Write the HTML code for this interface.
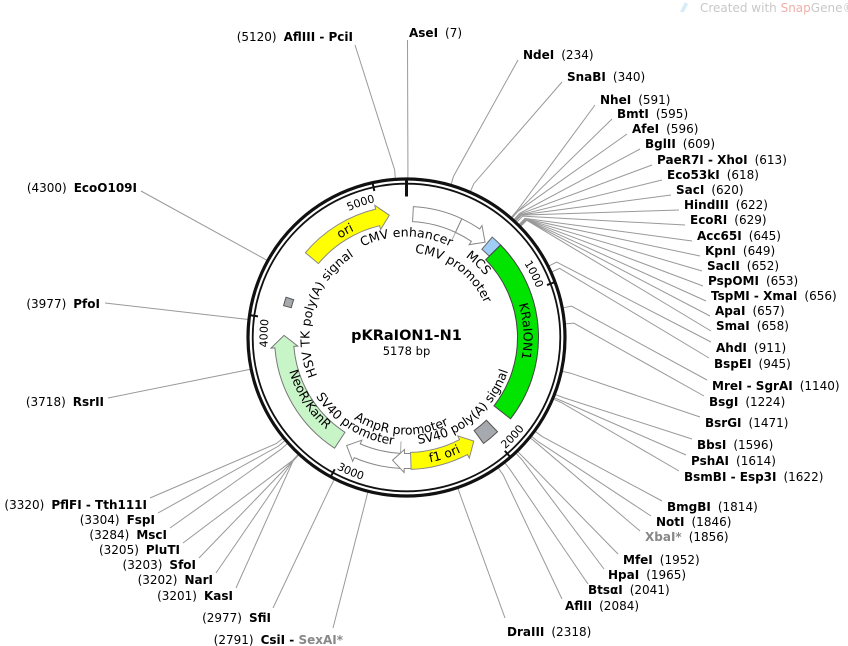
<!DOCTYPE html>
<html><head><meta charset="utf-8"><style>
html,body{margin:0;padding:0;background:#fff;width:848px;height:646px;overflow:hidden}
svg{display:block}
.l{font-size:12px;fill:#000}
.b{font-weight:bold}
.f{font-size:12.5px;fill:#000}
.t{font-size:11px;fill:#000}
</style></head><body>
<svg id="s" width="848" height="646" viewBox="0 0 848 646" font-family="'DejaVu Sans', 'Liberation Sans', sans-serif">
<defs>
<path id="p_cmve"/><path id="p_cmvp"/><path id="p_mcs"/><path id="p_kra"/><path id="p_ori"/>
<path id="p_hsv"/><path id="p_neo"/><path id="p_sv40p"/><path id="p_amp"/><path id="p_sv40pa"/><path id="p_f1"/>
<path id="p_5000"/><path id="p_1000"/><path id="p_4000"/><path id="p_2000"/><path id="p_3000"/>
</defs>
<g id="lines" stroke="#999" stroke-width="1" fill="none"></g>
<g id="feat"></g>
<g id="ring"></g>

<text x="700" y="12" font-size="12" fill="#c8c8c8">Created with <tspan fill="#f0b0a8">Snap</tspan>Gene®</text>
<path d="M680 12 L685 2 L688 4 L684 12 Z" fill="#d6ecf8"/>

<text class="f"><textPath href="#p_cmve" startOffset="50%" text-anchor="middle">CMV enhancer</textPath></text>
<text class="f"><textPath href="#p_cmvp" startOffset="50%" text-anchor="middle">CMV promoter</textPath></text>
<text class="f"><textPath href="#p_mcs" startOffset="50%" text-anchor="middle">MCS</textPath></text>
<text class="f"><textPath href="#p_kra" startOffset="50%" text-anchor="middle">KRaION1</textPath></text>
<text class="f"><textPath href="#p_ori" startOffset="50%" text-anchor="middle">ori</textPath></text>
<text class="f"><textPath href="#p_hsv" startOffset="50%" text-anchor="middle">HSV TK poly(A) signal</textPath></text>
<text class="f"><textPath href="#p_neo" startOffset="50%" text-anchor="middle">NeoR/KanR</textPath></text>
<text class="f"><textPath href="#p_sv40p" startOffset="50%" text-anchor="middle">SV40 promoter</textPath></text>
<text class="f"><textPath href="#p_amp" startOffset="50%" text-anchor="middle">AmpR promoter</textPath></text>
<text class="f"><textPath href="#p_sv40pa" startOffset="50%" text-anchor="middle">SV40 poly(A) signal</textPath></text>
<text class="f"><textPath href="#p_f1" startOffset="50%" text-anchor="middle">f1 ori</textPath></text>
<text class="t"><textPath href="#p_5000" startOffset="100%" text-anchor="end">5000</textPath></text>
<text class="t"><textPath href="#p_1000" startOffset="100%" text-anchor="end">1000</textPath></text>
<text class="t"><textPath href="#p_4000" startOffset="100%" text-anchor="end">4000</textPath></text>
<text class="t"><textPath href="#p_2000" startOffset="0%">2000</textPath></text>
<text class="t"><textPath href="#p_3000" startOffset="0%">3000</textPath></text>

<text x="406.5" y="340" text-anchor="middle" font-size="14.5" font-weight="bold">pKRaION1-N1</text>
<text x="406.5" y="355" text-anchor="middle" font-size="11.5">5178 bp</text>

<g class="l">
<text x="409" y="37"><tspan class="b">AseI</tspan><tspan dx="7">(7)</tspan></text>
<text x="523" y="59"><tspan class="b">NdeI</tspan><tspan dx="7">(234)</tspan></text>
<text x="567" y="81"><tspan class="b">SnaBI</tspan><tspan dx="7">(340)</tspan></text>
<text x="600" y="104"><tspan class="b">NheI</tspan><tspan dx="7">(591)</tspan></text>
<text x="617" y="118"><tspan class="b">BmtI</tspan><tspan dx="7">(595)</tspan></text>
<text x="632" y="133"><tspan class="b">AfeI</tspan><tspan dx="7">(596)</tspan></text>
<text x="645" y="148"><tspan class="b">BglII</tspan><tspan dx="7">(609)</tspan></text>
<text x="657" y="164"><tspan class="b">PaeR7I - XhoI</tspan><tspan dx="7">(613)</tspan></text>
<text x="667" y="179"><tspan class="b">Eco53kI</tspan><tspan dx="7">(618)</tspan></text>
<text x="676" y="194"><tspan class="b">SacI</tspan><tspan dx="7">(620)</tspan></text>
<text x="684" y="209"><tspan class="b">HindIII</tspan><tspan dx="7">(622)</tspan></text>
<text x="690" y="224"><tspan class="b">EcoRI</tspan><tspan dx="7">(629)</tspan></text>
<text x="697" y="240"><tspan class="b">Acc65I</tspan><tspan dx="7">(645)</tspan></text>
<text x="705" y="255"><tspan class="b">KpnI</tspan><tspan dx="7">(649)</tspan></text>
<text x="707" y="270"><tspan class="b">SacII</tspan><tspan dx="7">(652)</tspan></text>
<text x="708" y="285"><tspan class="b">PspOMI</tspan><tspan dx="7">(653)</tspan></text>
<text x="711" y="300"><tspan class="b">TspMI - XmaI</tspan><tspan dx="7">(656)</tspan></text>
<text x="715" y="315"><tspan class="b">ApaI</tspan><tspan dx="7">(657)</tspan></text>
<text x="716" y="330"><tspan class="b">SmaI</tspan><tspan dx="7">(658)</tspan></text>
<text x="716" y="352"><tspan class="b">AhdI</tspan><tspan dx="7">(911)</tspan></text>
<text x="714" y="368"><tspan class="b">BspEI</tspan><tspan dx="7">(945)</tspan></text>
<text x="712" y="390"><tspan class="b">MreI - SgrAI</tspan><tspan dx="7">(1140)</tspan></text>
<text x="709" y="406"><tspan class="b">BsgI</tspan><tspan dx="7">(1224)</tspan></text>
<text x="705" y="427"><tspan class="b">BsrGI</tspan><tspan dx="7">(1471)</tspan></text>
<text x="697" y="449"><tspan class="b">BbsI</tspan><tspan dx="7">(1596)</tspan></text>
<text x="691" y="465"><tspan class="b">PshAI</tspan><tspan dx="7">(1614)</tspan></text>
<text x="684" y="481"><tspan class="b">BsmBI - Esp3I</tspan><tspan dx="7">(1622)</tspan></text>
<text x="667" y="511"><tspan class="b">BmgBI</tspan><tspan dx="7">(1814)</tspan></text>
<text x="656" y="526"><tspan class="b">NotI</tspan><tspan dx="7">(1846)</tspan></text>
<text x="645" y="541"><tspan class="b" fill="#888">XbaI*</tspan><tspan dx="7">(1856)</tspan></text>
<text x="623" y="564"><tspan class="b">MfeI</tspan><tspan dx="7">(1952)</tspan></text>
<text x="608" y="579"><tspan class="b">HpaI</tspan><tspan dx="7">(1965)</tspan></text>
<text x="588" y="594"><tspan class="b">BtsαI</tspan><tspan dx="7">(2041)</tspan></text>
<text x="565" y="610"><tspan class="b">AflII</tspan><tspan dx="7">(2084)</tspan></text>
<text x="507" y="636"><tspan class="b">DraIII</tspan><tspan dx="7">(2318)</tspan></text>
</g>
<g class="l" text-anchor="end">
<text x="353" y="41">(5120)<tspan class="b" dx="7">AflIII - PciI</tspan></text>
<text x="137" y="192">(4300)<tspan class="b" dx="7">EcoO109I</tspan></text>
<text x="100" y="308">(3977)<tspan class="b" dx="7">PfoI</tspan></text>
<text x="104" y="406">(3718)<tspan class="b" dx="7">RsrII</tspan></text>
<text x="147" y="509">(3320)<tspan class="b" dx="7">PflFI - Tth111I</tspan></text>
<text x="155" y="524">(3304)<tspan class="b" dx="7">FspI</tspan></text>
<text x="167" y="539">(3284)<tspan class="b" dx="7">MscI</tspan></text>
<text x="180" y="554">(3205)<tspan class="b" dx="7">PluTI</tspan></text>
<text x="196" y="569">(3203)<tspan class="b" dx="7">SfoI</tspan></text>
<text x="213" y="584">(3202)<tspan class="b" dx="7">NarI</tspan></text>
<text x="233" y="600">(3201)<tspan class="b" dx="7">KasI</tspan></text>
<text x="271" y="622">(2977)<tspan class="b" dx="7">SfiI</tspan></text>
<text x="343" y="644">(2791)<tspan class="b" dx="7">CsiI - </tspan><tspan class="b" fill="#888">SexAI*</tspan></text>
</g>
</svg>
<script>
(function(){
var NS="http://www.w3.org/2000/svg",cx=406.5,cy=337.5,L=5178;
function P(a,r){var t=a*Math.PI/180;return [cx+r*Math.sin(t),cy-r*Math.cos(t)];}
function f(p){return p[0].toFixed(2)+" "+p[1].toFixed(2);}
function arc(a1,a2,r){var cw=a2>a1,lg=Math.abs(a2-a1)>180?1:0;return "M"+f(P(a1,r))+" A"+r+" "+r+" 0 "+lg+" "+(cw?1:0)+" "+f(P(a2,r));}
function el(g,tag,at){var e=document.createElementNS(NS,tag);for(var k in at)e.setAttribute(k,at[k]);g.appendChild(e);return e;}
function sp(id,a1,a2,r){document.getElementById(id).setAttribute("d",arc(a1,a2,r));}
sp("p_cmve",-40,40,101);sp("p_cmvp",-4,76,85);sp("p_mcs",29,59,100);sp("p_kra",47,127,117);
sp("p_ori",310,350,119);sp("p_hsv",245,329,97);sp("p_neo",270,205,122);sp("p_sv40p",245,179,108);
sp("p_amp",220,147,97);sp("p_sv40pa",180,102,107);sp("p_f1",180,144,127);
sp("p_5000",320,347,139);sp("p_1000",40,69.3,139);sp("p_4000",250,277.5,139);
sp("p_2000",138.5,110,149);sp("p_3000",208,180,149);
var fg=document.getElementById("feat");
function band(a1,a2,r1,r2,head,fill,stroke){
 var h=5.5,d;
 if(head==="cw"){var b=a2-h;d="M"+f(P(a1,r2))+" A"+r2+" "+r2+" 0 0 1 "+f(P(b,r2))+" L"+f(P(b,r2+4))+" L"+f(P(a2,(r1+r2)/2))+" L"+f(P(b,r1-4))+" L"+f(P(b,r1))+" A"+r1+" "+r1+" 0 0 0 "+f(P(a1,r1))+" Z";}
 else if(head==="ccw"){var b2=a1+h;d="M"+f(P(a2,r2))+" A"+r2+" "+r2+" 0 0 0 "+f(P(b2,r2))+" L"+f(P(b2,r2+4))+" L"+f(P(a1,(r1+r2)/2))+" L"+f(P(b2,r1-4))+" L"+f(P(b2,r1))+" A"+r1+" "+r1+" 0 0 1 "+f(P(a2,r1))+" Z";}
 else {d="M"+f(P(a1,r2))+" A"+r2+" "+r2+" 0 0 1 "+f(P(a2,r2))+" L"+f(P(a2,r1))+" A"+r1+" "+r1+" 0 0 0 "+f(P(a1,r1))+" Z";}
 el(fg,"path",{d:d,fill:fill,stroke:stroke,"stroke-width":1});
}
band(3,25,116,131,null,"#fff","#888");
band(25,39.5,116,131,"cw","#fff","#888");
band(40.5,45.5,116,132,null,"#9fcdf5","#666");
band(45.5,128,111,132,null,"#00e400","#444");
band(310,352,115,132,"cw","#ffff00","#888");
band(284.5,288.5,119,127,null,"#a6a9ae","#555");
band(213,271,113,132,"cw","#c8f5c8","#777");
band(183,209,116,131,"cw","#fff","#888");
band(177.5,186.5,116,131,"cw","#fff","#888");
band(147,178,115,132,"ccw","#ffff00","#888");
band(136,144,115,131,null,"#a6a9ae","#555");
var rg=document.getElementById("ring");
el(rg,"circle",{cx:cx,cy:cy,r:158.5,fill:"none",stroke:"#111","stroke-width":3.2});
el(rg,"circle",{cx:cx,cy:cy,r:153.8,fill:"none",stroke:"#111","stroke-width":1.8});
var tk=[[0,157,141,3],[1000*360/L,158,150,2],[2000*360/L,158,150,2],[3000*360/L,158,150,2],[4000*360/L,158,150,2],[5000*360/L,158,150,2]];
tk.forEach(function(t){var a=P(t[0],t[1]),b=P(t[0],t[2]);el(rg,"line",{x1:a[0],y1:a[1],x2:b[0],y2:b[1],stroke:"#111","stroke-width":t[3]});});
var lg=document.getElementById("lines");
var D=[[7,407.5,40],[234,518,60],[340,562,82],[591,595,105],[595,612,119],[596,627,134],[609,640,149],[613,652,165],[618,662,180],[620,671,195],[622,679,210],[629,685,225],[645,692,241],[649,700,256],[652,702,271],[653,703,286],[656,706,301],[657,710,316],[658,711,331],[911,711,342],[945,709,358],[1140,707,380],[1224,704,396],[1471,700,417],[1596,692,439],[1614,686,455],[1622,679,471],[1814,662,501],[1846,651,516],[1856,640,531],[1952,618,554],[1965,604,569],[2041,588,584],[2084,562,599],[2318,505,618],
[5120,355,45],[4300,141,191],[3977,105,303],[3718,108,398],[3320,150,498],[3304,158,513],[3284,170,528],[3205,183,543],[3203,199,558],[3202,216,573],[3201,236,588],[2977,273,608],[2791,333,628]];
D.forEach(function(d){var a=d[0]*360/L,p1=P(a,160),p2=P(a,168);el(lg,"polyline",{points:f(p1)+" "+f(p2)+" "+d[1]+" "+d[2]});});
[[25,118,108],[183,118,104]].forEach(function(c){var a=P(c[0],c[1]),b=P(c[0],c[2]);el(lg,"line",{x1:a[0],y1:a[1],x2:b[0],y2:b[1],stroke:"#aaa"});});
})();
</script>
</body></html>
